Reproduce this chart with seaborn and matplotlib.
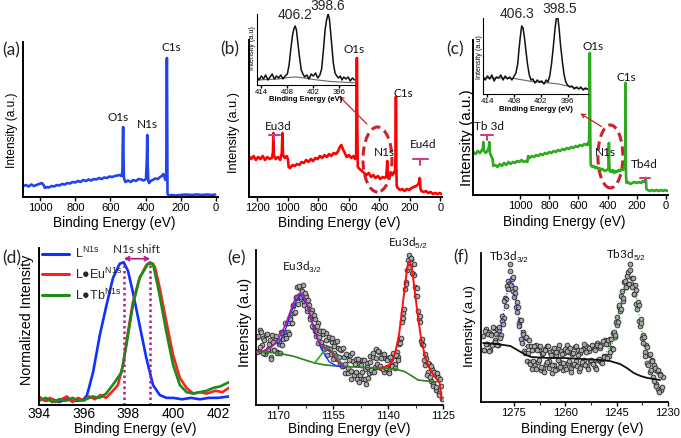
import matplotlib
matplotlib.use("Agg")
import matplotlib.pyplot as plt
import seaborn as sns
import pandas as pd
from matplotlib.patches import Ellipse

# ---------------- data ----------------
# (a) ligand survey
a_x = [1095, 1080, 1065, 1050, 1035, 1020, 1005, 990, 980, 972,
       962, 950, 935, 920, 905, 890, 875, 860, 845, 830,
       815, 800, 785, 770, 755, 740, 725, 710, 695, 680,
       665, 650, 635, 620, 605, 590, 575, 560, 548, 538,
       532, 530, 528, 526, 524, 520, 515, 500, 485, 470,
       455, 440, 425, 412, 398, 393, 391, 389, 385, 380,
       372, 360, 345, 330, 318, 308, 300, 294, 288, 283,
       280, 279, 278, 276, 273, 265, 250, 230, 200, 170,
       140, 110, 80, 50, 25, 5]
a_y = [11, 12, 10.5, 12.5, 11, 12, 13, 14, 12, 9,
       10, 9.5, 11, 10.5, 12, 11.5, 13, 12.5, 14, 13.5,
       15, 14.5, 16, 15, 17, 16, 17.5, 16.5, 18, 17.5,
       19, 18, 19.5, 19, 20.5, 20, 21, 21.5, 22, 21,
       25, 55, 70, 45, 20, 17, 15, 16.5, 15, 17,
       16, 18, 17.5, 16.5, 18, 40, 62, 35, 16, 14,
       16, 17, 18.5, 18, 20, 21, 23, 21, 17, 19,
       139, 139, 100, 4, 2, 1.5, 2, 1.5, 2, 2.5,
       2, 2.5, 2, 2.5, 2, 2.5]

# (b) Eu complex survey
b_x = [1250, 1240, 1225, 1210, 1195, 1180, 1165, 1150, 1135, 1120,
       1105, 1098, 1095, 1092, 1080, 1065, 1050, 1040, 1036, 1032,
       1020, 1008, 1000, 995, 985, 970, 955, 940, 925, 910,
       895, 880, 865, 850, 835, 820, 805, 790, 775, 760,
       745, 730, 715, 700, 685, 670, 660, 650, 640, 630,
       615, 600, 585, 570, 560, 553, 551, 549, 547, 545,
       542, 530, 515, 500, 485, 470, 455, 440, 425, 410,
       395, 380, 365, 355, 351, 349, 347, 343, 335, 325,
       315, 305, 298, 295, 293, 291, 289, 287, 280, 265,
       250, 235, 220, 205, 190, 175, 160, 150, 142, 137,
       134, 131, 125, 110, 95, 80, 65, 50, 35, 20,
       5, -8]
b_y = [40, 38, 41, 37, 40, 38, 41, 37, 40, 38,
       39, 45, 64, 42, 38, 40, 37, 44, 64, 42,
       39, 41, 38, 30, 29, 32, 31, 33, 32, 35,
       34, 37, 35, 38, 36, 39, 38, 41, 39, 42,
       40, 43, 41, 44, 43, 46, 50, 52, 48, 45,
       40, 42, 39, 41, 38, 40, 80, 139, 139, 70,
       30, 28, 26, 24, 22, 24, 20, 22, 19, 21,
       18, 20, 19, 21, 30, 36, 27, 19, 21, 23,
       22, 25, 24, 40, 100, 100, 30, 11, 9, 7,
       8, 6, 8, 7, 9, 10, 11, 12, 14, 19,
       17, 8, 6, 5, 6, 4, 5, 3, 4, 3,
       4, 3]

# (c) Tb complex survey
c_x = [1320, 1305, 1290, 1275, 1262, 1256, 1252, 1248, 1235, 1222,
       1215, 1211, 1207, 1196, 1188, 1184, 1170, 1155, 1140, 1125,
       1110, 1095, 1080, 1065, 1050, 1035, 1020, 1005, 990, 975,
       960, 950, 945, 935, 920, 905, 890, 875, 860, 845,
       830, 815, 800, 785, 770, 755, 740, 725, 710, 695,
       680, 665, 650, 635, 620, 605, 590, 575, 560, 545,
       535, 528, 525, 523, 521, 519, 516, 505, 495, 485,
       475, 465, 455, 445, 435, 420, 405, 395, 393, 391,
       389, 385, 375, 365, 355, 345, 335, 325, 315, 305,
       295, 285, 280, 278, 276, 274, 270, 260, 245, 230,
       215, 200, 185, 170, 160, 150, 142, 139, 137, 134,
       125, 110, 95, 80, 65, 50, 35, 20, 5, -10]
c_y = [43, 41, 44, 42, 45, 46, 53, 44, 42, 45,
       47, 53, 42, 38, 36, 29, 30, 28, 31, 29,
       32, 30, 33, 31, 33, 32, 34, 33, 35, 33,
       34, 33, 39, 37, 39, 38, 40, 39, 41, 40,
       42, 41, 43, 42, 44, 43, 45, 44, 46, 45,
       47, 46, 48, 47, 49, 48, 50, 49, 51, 50,
       52, 50, 70, 142, 142, 60, 30, 28, 29, 27,
       28, 26, 27, 25, 26, 24, 25, 26, 40, 52,
       32, 24, 23, 25, 22, 24, 23, 25, 24, 26,
       25, 27, 26, 112, 112, 20, 12, 13, 11, 12,
       13, 12, 13, 12, 14, 13, 14, 17, 15, 6,
       5, 4, 5, 4, 5, 4, 5, 4, 5, 4]

# insets: N1s high resolution
ib_x = [415, 414.5, 414, 413.5, 413, 412.5, 412, 411.5, 411, 410.5, 410, 409.5, 409, 408.5, 408,
        407.6, 407.2, 406.8, 406.5, 406.2, 405.9, 405.6, 405.2, 404.8, 404.4, 404,
        403.5, 403, 402.5, 402, 401.5, 401, 400.5,
        400.1, 399.7, 399.3, 399, 398.6, 398.3, 398, 397.7, 397.4, 397,
        396.6, 396.2, 395.8, 395.4, 395, 394.5, 394, 393.5, 393, 392.5]
ib_y = [8, 5, 9, 6, 10, 5, 8, 11, 6, 9, 7, 10, 6, 9, 11,
        20, 36, 50, 56, 59, 55, 43, 28, 15, 11, 8,
        10, 6, 11, 9, 12, 7, 10,
        16, 34, 55, 64, 71, 66, 52, 37, 22, 12,
        9, 7, 9, 5, 8, 6, 8, 4, 7, 5]
ib_bg_x = [415, 410, 408, 406, 404, 402, 400, 398, 396, 394, 392.5]
ib_bg_y = [5, 6, 7.5, 8, 7, 5.5, 4.5, 3.5, 3, 2.5, 2.3]
ic_x = [415, 414.5, 414, 413.5, 413, 412.5, 412, 411.5, 411, 410.5, 410, 409.5, 409, 408.5, 408,
        407.6, 407.2, 406.9, 406.6, 406.3, 406, 405.7, 405.4, 405, 404.6, 404.2, 403.8, 403.3,
        402.8, 402.3, 401.8, 401.3, 400.8, 400.4, 400,
        399.6, 399.2, 398.8, 398.5, 398.2, 397.9, 397.6, 397.2, 396.8, 396.4, 396,
        395.5, 395, 394.5, 394, 393.5, 393, 392.5, 392, 391.5]
ic_y = [17, 14, 18, 15, 19, 13, 17, 16, 19, 14, 18, 15, 17, 14, 18,
        21, 30, 45, 58, 68, 66, 57, 45, 30, 19, 14, 15, 11, 14, 12, 13, 10, 14, 12, 18,
        30, 47, 66, 76, 77, 66, 50, 34, 20, 12, 9,
        7, 8, 5, 7, 5, 7, 4, 6, 5]
ic_bg_x = [415, 410, 408, 406, 404, 402, 400, 398, 396, 394, 391.5]
ic_bg_y = [16, 16, 15.5, 14, 12.5, 11.5, 11, 10, 8, 6, 4.5]

# (d) normalised N1s
d_blue_x = [394.0, 394.3, 394.6, 394.9, 395.2, 395.5, 395.8, 396.0, 396.15, 396.42,
            396.72, 397.02, 397.31, 397.61, 397.79, 397.98, 398.2, 398.5, 398.8, 399.1,
            399.4, 399.7, 400.0, 400.4, 400.8, 401.2, 401.6, 402.0, 402.5]
d_blue_y = [0.05, 0.03, 0.04, 0.02, 0.04, 0.03, 0.03, 0.04, 0.07, 0.23,
            0.49, 0.70, 0.89, 0.99, 1.0, 0.94, 0.79, 0.56, 0.33, 0.14,
            0.07, 0.05, 0.05, 0.04, 0.05, 0.04, 0.05, 0.05, 0.06]
d_red_x = [394.0, 394.25, 394.5, 394.75, 395.0, 395.25, 395.5, 395.75, 396.0, 396.25,
           396.5, 396.75, 397.0, 397.25, 397.53, 397.76, 397.98, 398.2, 398.5, 398.8,
           398.98, 399.18, 399.4, 399.7, 400.0, 400.3, 400.6, 400.9, 401.2, 401.5,
           401.9, 402.2, 402.5]
d_red_y = [0.06, 0.03, 0.05, 0.02, 0.04, 0.06, 0.02, 0.05, 0.03, 0.06,
           0.04, 0.07, 0.05, 0.09, 0.14, 0.28, 0.51, 0.72, 0.89, 0.98,
           1.0, 0.97, 0.82, 0.58, 0.35, 0.19, 0.12, 0.08, 0.09, 0.08,
           0.1, 0.09, 0.12]
d_green_x = [394.0, 394.3, 394.6, 394.9, 395.2, 395.5, 395.8, 396.1, 396.4, 396.7,
             397.0, 397.2, 397.39, 397.69, 397.91, 398.2, 398.5, 398.88, 399.1, 399.37,
             399.7, 400.0, 400.3, 400.6, 400.9, 401.2, 401.5, 401.8, 402.1, 402.5]
d_green_y = [0.03, 0.05, 0.02, 0.04, 0.03, 0.05, 0.03, 0.04, 0.06, 0.05,
             0.08, 0.12, 0.16, 0.23, 0.42, 0.70, 0.89, 0.99, 0.99, 0.79,
             0.51, 0.28, 0.14, 0.09, 0.08, 0.09, 0.1, 0.12, 0.13, 0.16]
d_labels = ["L$^{\\rm N1s}$", "L\u25cfEu$^{\\rm N1s}$", "L\u25cfTb$^{\\rm N1s}$"]
d_peaks = [397.79, 398.98]

# (e) Eu3d  (two interleaved sweeps of data points)
e_pts_x = [1175.6, 1175.2, 1174.8, 1174.4, 1174.0, 1173.6, 1173.2, 1172.8, 1172.4, 1172.0,
           1171.6, 1171.2, 1170.8, 1170.4, 1170.0, 1169.6, 1169.2, 1168.8, 1168.4, 1168.0,
           1167.6, 1167.2, 1166.8, 1166.4, 1166.0, 1165.6, 1165.2, 1164.8, 1164.4, 1164.0,
           1163.6, 1163.2, 1162.8, 1162.4, 1162.0, 1161.6, 1161.2, 1160.8, 1160.4, 1160.0,
           1159.6, 1159.2, 1158.8, 1158.4, 1158.0, 1157.6, 1157.2, 1156.8, 1156.4, 1156.0,
           1155.6, 1155.2, 1154.8, 1154.4, 1154.0, 1153.6, 1153.2, 1152.8, 1152.4, 1152.0,
           1151.6, 1151.2, 1150.8, 1150.4, 1150.0, 1149.6, 1149.2, 1148.8, 1148.4, 1148.0,
           1147.6, 1147.2, 1146.8, 1146.4, 1146.0, 1145.6, 1145.2, 1144.8, 1144.4, 1144.0,
           1143.6, 1143.2, 1142.8, 1142.4, 1142.0, 1141.6, 1141.2, 1140.8, 1140.4, 1140.0,
           1139.6, 1139.2, 1138.8, 1138.4, 1138.0, 1137.6, 1137.2, 1136.8, 1136.4, 1136.0,
           1135.6, 1135.2, 1134.8, 1134.4, 1134.0, 1133.6, 1133.2, 1132.8, 1132.4, 1132.0,
           1131.6, 1131.2, 1130.8, 1130.4, 1130.0, 1129.6, 1129.2, 1128.8, 1128.4, 1128.0,
           1127.6, 1127.2, 1126.8, 1126.4, 1126.0, 1125.6]
e_pts_y = [68, 54, 75, 60, 67, 51, 70, 55, 61, 48,
           70, 55, 65, 53, 64, 61, 73, 60, 73, 67,
           82, 73, 88, 82, 99, 92, 107, 118, 108, 117,
           106, 120, 103, 109, 94, 100, 88, 95, 78, 86,
           69, 82, 68, 74, 59, 71, 58, 72, 57, 66,
           51, 63, 52, 63, 46, 57, 41, 55, 39, 48,
           32, 50, 37, 50, 26, 44, 31, 46, 26, 41,
           30, 45, 26, 36, 21, 42, 32, 49, 33, 48,
           38, 56, 38, 53, 37, 50, 33, 47, 38, 47,
           35, 46, 40, 49, 41, 53, 48, 66, 67, 92,
           96, 123, 135, 150, 139, 146, 131, 130, 109, 109,
           86, 83, 61, 60, 40, 47, 33, 41, 24, 36,
           21, 31, 15, 28, 12, 19]
e_pts2_x = [1175.8, 1175.4, 1175.0, 1174.6, 1174.2, 1173.8, 1173.4, 1173.0, 1172.6, 1172.2,
            1171.8, 1171.4, 1171.0, 1170.6, 1170.2, 1169.8, 1169.4, 1169.0, 1168.6, 1168.2,
            1167.8, 1167.4, 1167.0, 1166.6, 1166.2, 1165.8, 1165.4, 1165.0, 1164.6, 1164.2,
            1163.8, 1163.4, 1163.0, 1162.6, 1162.2, 1161.8, 1161.4, 1161.0, 1160.6, 1160.2,
            1159.8, 1159.4, 1159.0, 1158.6, 1158.2, 1157.8, 1157.4, 1157.0, 1156.6, 1156.2,
            1155.8, 1155.4, 1155.0, 1154.6, 1154.2, 1153.8, 1153.4, 1153.0, 1152.6, 1152.2,
            1151.8, 1151.4, 1151.0, 1150.6, 1150.2, 1149.8, 1149.4, 1149.0, 1148.6, 1148.2,
            1147.8, 1147.4, 1147.0, 1146.6, 1146.2, 1145.8, 1145.4, 1145.0, 1144.6, 1144.2,
            1143.8, 1143.4, 1143.0, 1142.6, 1142.2, 1141.8, 1141.4, 1141.0, 1140.6, 1140.2,
            1139.8, 1139.4, 1139.0, 1138.6, 1138.2, 1137.8, 1137.4, 1137.0, 1136.6, 1136.2,
            1135.8, 1135.4, 1135.0, 1134.6, 1134.2, 1133.8, 1133.4, 1133.0, 1132.6, 1132.2,
            1131.8, 1131.4, 1131.0, 1130.6, 1130.2, 1129.8, 1129.4, 1129.0, 1128.6, 1128.2,
            1127.8, 1127.4, 1127.0, 1126.6, 1126.2, 1125.8, 1125.4]
e_pts2_y = [53, 69, 58, 73, 52, 65, 54, 71, 56, 65,
            46, 63, 55, 69, 52, 64, 52, 72, 66, 82,
            67, 82, 71, 86, 82, 100, 93, 108, 101, 119,
            108, 114, 100, 112, 97, 105, 86, 92, 79, 90,
            74, 79, 62, 74, 63, 74, 56, 65, 50, 68,
            56, 67, 46, 59, 49, 64, 48, 56, 39, 57,
            41, 51, 32, 45, 34, 52, 30, 41, 33, 46,
            23, 40, 33, 45, 26, 38, 27, 43, 35, 52,
            33, 47, 41, 54, 39, 47, 36, 51, 37, 45,
            32, 48, 39, 52, 37, 50, 45, 61, 62, 83,
            87, 116, 121, 145, 138, 147, 132, 141, 118, 117,
            94, 89, 64, 66, 45, 51, 30, 42, 28, 39,
            19, 33, 18, 32, 10, 26, 6]
e_bg_x = [1175.4, 1172, 1169.9, 1166, 1162.6, 1160, 1157.2, 1154, 1150.9, 1146,
          1140.9, 1138.1, 1135.4, 1133.5, 1131.8, 1129.5, 1127.2, 1125.9]
e_bg_y = [53.3, 52.5, 51.7, 49, 45, 42, 40, 39, 38.3, 37.5,
          36.7, 36, 33.3, 29, 25, 24, 23.3, 23.3]
e_fit52_x = [1142, 1140, 1139, 1138, 1137, 1136, 1135, 1134.5, 1134, 1133.5,
             1133, 1132, 1131, 1130, 1129, 1128, 1127, 1126, 1125.6, 1125.4]
e_fit52_y = [37, 39, 43, 53, 70, 100, 130, 143, 143, 137,
             123, 93, 67, 50, 39, 32, 27, 23, 13, 5]
e_fit32_x = [1176, 1174, 1172, 1170, 1168, 1166, 1165, 1164, 1163, 1162,
             1161, 1160, 1159, 1158, 1157, 1156, 1155, 1154, 1153, 1152]
e_fit32_y = [53, 54, 57, 65, 80, 100, 109, 112, 109, 100,
             87, 75, 65, 59, 56, 55, 51, 45, 41, 39]
e_comp1_x = [1170, 1168, 1166, 1164, 1162, 1160, 1158, 1156, 1154, 1152]
e_comp1_y = [60, 75, 97, 111, 99, 73, 55, 43, 39, 38]
e_comp2_x = [1160, 1158.5, 1157.5, 1156.7, 1156, 1155, 1154, 1153, 1152]
e_comp2_y = [42, 49, 54, 57, 56, 53, 48, 43, 39]

# (f) Tb3d  (two interleaved sweeps of data points)
f_pts_x = [1284.0, 1283.6, 1283.2, 1282.8, 1282.4, 1282.0, 1281.6, 1281.2, 1280.8, 1280.4,
           1280.0, 1279.6, 1279.2, 1278.8, 1278.4, 1278.0, 1277.6, 1277.2, 1276.8, 1276.4,
           1276.0, 1275.6, 1275.2, 1274.8, 1274.4, 1274.0, 1273.6, 1273.2, 1272.8, 1272.4,
           1272.0, 1271.6, 1271.2, 1270.8, 1270.4, 1270.0, 1269.6, 1269.2, 1268.8, 1268.4,
           1268.0, 1267.6, 1267.2, 1266.8, 1266.4, 1266.0, 1265.6, 1265.2, 1264.8, 1264.4,
           1264.0, 1263.6, 1263.2, 1262.8, 1262.4, 1262.0, 1261.6, 1261.2, 1260.8, 1260.4,
           1260.0, 1259.6, 1259.2, 1258.8, 1258.4, 1258.0, 1257.6, 1257.2, 1256.8, 1256.4,
           1256.0, 1255.6, 1255.2, 1254.8, 1254.4, 1254.0, 1253.6, 1253.2, 1252.8, 1252.4,
           1252.0, 1251.6, 1251.2, 1250.8, 1250.4, 1250.0, 1249.6, 1249.2, 1248.8, 1248.4,
           1248.0, 1247.6, 1247.2, 1246.8, 1246.4, 1246.0, 1245.6, 1245.2, 1244.8, 1244.4,
           1244.0, 1243.6, 1243.2, 1242.8, 1242.4, 1242.0, 1241.6, 1241.2, 1240.8, 1240.4,
           1240.0, 1239.6, 1239.2, 1238.8, 1238.4, 1238.0, 1237.6, 1237.2, 1236.8, 1236.4,
           1236.0, 1235.6, 1235.2, 1234.8, 1234.4, 1234.0, 1233.6, 1233.2, 1232.8, 1232.4,
           1232.0, 1231.6]
f_pts_y = [66, 52, 73, 58, 70, 52, 68, 58, 74, 62,
           73, 57, 72, 67, 86, 84, 104, 103, 121, 118,
           138, 123, 111, 114, 95, 100, 79, 82, 63, 70,
           51, 64, 41, 56, 40, 56, 33, 53, 38, 57,
           40, 52, 32, 48, 34, 53, 38, 56, 41, 50,
           29, 52, 37, 47, 33, 54, 40, 51, 32, 49,
           36, 57, 39, 50, 34, 48, 37, 55, 41, 52,
           31, 49, 38, 53, 42, 56, 36, 51, 41, 55,
           39, 54, 35, 59, 42, 54, 40, 58, 46, 62,
           46, 58, 46, 63, 54, 69, 65, 80, 77, 95,
           91, 106, 101, 120, 115, 126, 118, 138, 118, 124,
           108, 117, 98, 100, 81, 83, 64, 67, 50, 57,
           39, 47, 30, 42, 25, 37, 18, 31, 13, 28,
           12, 25]
f_pts2_x = [1283.8, 1283.4, 1283.0, 1282.6, 1282.2, 1281.8, 1281.4, 1281.0, 1280.6, 1280.2,
            1279.8, 1279.4, 1279.0, 1278.6, 1278.2, 1277.8, 1277.4, 1277.0, 1276.6, 1276.2,
            1275.8, 1275.4, 1275.0, 1274.6, 1274.2, 1273.8, 1273.4, 1273.0, 1272.6, 1272.2,
            1271.8, 1271.4, 1271.0, 1270.6, 1270.2, 1269.8, 1269.4, 1269.0, 1268.6, 1268.2,
            1267.8, 1267.4, 1267.0, 1266.6, 1266.2, 1265.8, 1265.4, 1265.0, 1264.6, 1264.2,
            1263.8, 1263.4, 1263.0, 1262.6, 1262.2, 1261.8, 1261.4, 1261.0, 1260.6, 1260.2,
            1259.8, 1259.4, 1259.0, 1258.6, 1258.2, 1257.8, 1257.4, 1257.0, 1256.6, 1256.2,
            1255.8, 1255.4, 1255.0, 1254.6, 1254.2, 1253.8, 1253.4, 1253.0, 1252.6, 1252.2,
            1251.8, 1251.4, 1251.0, 1250.6, 1250.2, 1249.8, 1249.4, 1249.0, 1248.6, 1248.2,
            1247.8, 1247.4, 1247.0, 1246.6, 1246.2, 1245.8, 1245.4, 1245.0, 1244.6, 1244.2,
            1243.8, 1243.4, 1243.0, 1242.6, 1242.2, 1241.8, 1241.4, 1241.0, 1240.6, 1240.2,
            1239.8, 1239.4, 1239.0, 1238.6, 1238.2, 1237.8, 1237.4, 1237.0, 1236.6, 1236.2,
            1235.8, 1235.4, 1235.0, 1234.6, 1234.2, 1233.8, 1233.4, 1233.0, 1232.6, 1232.2,
            1231.8]
f_pts2_y = [52, 71, 58, 68, 51, 67, 57, 75, 60, 68,
            57, 75, 64, 81, 78, 101, 96, 116, 113, 131,
            117, 125, 105, 109, 90, 95, 76, 82, 59, 68,
            49, 65, 49, 62, 38, 52, 41, 56, 33, 52,
            42, 56, 35, 49, 30, 52, 40, 56, 34, 47,
            37, 54, 32, 50, 42, 57, 35, 48, 39, 53,
            33, 51, 41, 54, 30, 49, 38, 56, 36, 47,
            34, 52, 40, 58, 37, 50, 33, 54, 42, 57,
            38, 52, 33, 57, 43, 56, 39, 61, 45, 58,
            44, 62, 50, 63, 53, 70, 67, 85, 80, 97,
            93, 111, 104, 121, 115, 130, 118, 132, 115, 124,
            108, 112, 93, 97, 76, 79, 59, 65, 46, 55,
            37, 48, 32, 41, 21, 34, 16, 32, 10, 27,
            15]
f_bg_x = [1284, 1280, 1276, 1274, 1272, 1270, 1265, 1260, 1255, 1250,
          1247, 1244, 1242, 1240, 1238, 1236, 1234, 1232.3]
f_bg_y = [59, 58, 56, 52, 48, 45, 44, 44, 43, 42,
          41, 38, 34, 29, 26, 24, 23, 22]
f_fit32_x = [1280, 1279, 1278, 1277, 1276, 1275.2, 1274.2, 1273.2, 1272, 1271]
f_fit32_y = [66, 70, 88, 110, 124, 115, 97, 77, 58, 52]
f_fit52_x = [1248, 1246, 1245, 1244, 1242.5, 1241, 1239.6, 1238.1, 1237, 1235, 1233.5]
f_fit52_y = [50, 60, 75, 94, 117, 124, 110, 80, 57, 37, 26]

survey_ticks = [1200, 1000, 800, 600, 400, 200, 0]
inset_ticks = [414, 408, 402, 396]
d_ticks = [394, 396, 398, 400, 402]
e_ticks = [1170, 1155, 1140, 1125]
f_ticks = [1275, 1260, 1245, 1230]

# ---------------- style ----------------
sns.set_theme(style="white")
plt.rcParams["font.family"] = ["Liberation Sans", "DejaVu Sans"]
plt.rcParams["mathtext.fontset"] = "custom"
plt.rcParams["mathtext.rm"] = "Liberation Sans"
plt.rcParams["mathtext.it"] = "Liberation Sans:italic"
plt.rcParams["mathtext.bf"] = "Liberation Sans:bold"

NARROW = ["Liberation Sans Narrow", "Liberation Sans", "DejaVu Sans"]
CAL = ["Lato", "DejaVu Sans"]

W, H = 681, 438
fig = plt.figure(figsize=(W / 100, H / 100), dpi=100)


def box(l, t, r, b):
    return fig.add_axes([l / W, 1 - b / H, (r - l) / W, (b - t) / H])


def style(ax, lw=1.4, tsize=8, tfam=None, ticklen=3):
    for s in ("top", "right"):
        ax.spines[s].set_visible(False)
    for s in ("left", "bottom"):
        ax.spines[s].set_color("black")
        ax.spines[s].set_linewidth(lw)
    ax.set_yticks([])
    ax.tick_params(axis="x", which="major", direction="out", bottom=True, length=ticklen,
                   width=1, color="black", pad=1.5, labelsize=tsize, labelcolor="black")
    if tfam:
        for t in ax.get_xticklabels():
            t.set_family(tfam)
    ax.set_facecolor("none")
    ax.grid(False)


def labels(ax, xl, yl, xpos, ypos, xs=9.8, ys=9.8):
    ax.set_xlabel(xl, fontsize=xs, color="black")
    ax.set_ylabel(yl, fontsize=ys, color="black")
    ax.xaxis.set_label_coords(*xpos)
    ax.xaxis.label.set_va("center")
    ax.yaxis.set_label_coords(*ypos)
    ax.yaxis.label.set_va("center")


def line(ax, x, y, color, lw, **kw):
    df = pd.DataFrame({"eV": x, "I": y})
    sns.lineplot(data=df, x="eV", y="I", ax=ax, color=color, lw=lw, sort=False,
                 estimator=None, **kw)


def points(ax, x, y):
    sns.scatterplot(x=x, y=y, ax=ax, s=12, color="#a8a8a8", edgecolor="#1a1a1a",
                    linewidth=0.55, zorder=2)


def bracket(ax, x0, x1, y, dy, color="#c8408a"):
    ax.plot([x0, x1], [y, y], color=color, lw=1.5, clip_on=False)
    xm = (x0 + x1) / 2
    ax.plot([xm, xm], [y, y - dy], color=color, lw=1.5, clip_on=False)


def ptext(ax, x, y, s, size=8.5):
    ax.text(x, y, s, ha="center", va="center", fontsize=size, family=CAL,
            color="#111111", clip_on=False)


# ---------------- (a) ----------------
ax = box(23, 42, 218, 197)
line(ax, a_x, a_y, "#2244ee", 1.9)
ax.set_xlim(1097, -11)
ax.set_ylim(0, 155)
ax.set_xticks(survey_ticks[1:])
style(ax, tfam=NARROW)
labels(ax, "Binding Energy (eV)", "Intensity (a.u.)", (0.47, -0.168), (-0.054, 0.43), ys=8.6)
ptext(ax, 557, 79.5, "O1s")
ptext(ax, 392, 73, "N1s")
ptext(ax, 256, 149.5, "C1s")

# ---------------- (b) ----------------
ax = box(249, 40, 442, 197)
line(ax, b_x, b_y, "#ff0000", 1.9)
ax.set_xlim(1255, -10)
ax.set_ylim(0, 157)
ax.set_xticks(survey_ticks)
style(ax, tfam=NARROW)
labels(ax, "Binding Energy (eV)", "Intensity (a.u.)", (0.466, -0.166), (-0.078, 0.41), ys=9.2)
ptext(ax, 567, 147.5, "O1s")
ptext(ax, 246, 103.5, "C1s")
ptext(ax, 366, 44, "N1s")
ptext(ax, 1062, 71, "Eu3d")
ptext(ax, 115, 53, "Eu4d")
bracket(ax, 1124, 1052, 62, 5)
bracket(ax, 180, 82, 38, 6)
ax.add_patch(Ellipse((413, 37.5), 190, 65, fill=False, ec="#d0202a", lw=2.2,
                     ls=(0, (3, 1.6)), clip_on=False))
ax.annotate("", xy=(678, 103), xytext=(469, 71),
            arrowprops=dict(arrowstyle="->", color="#d0202a", lw=0.9,
                            mutation_scale=7), annotation_clip=False)

# inset (b)
ax = box(257, 14, 355, 85)
line(ax, ib_bg_x, ib_bg_y, "#666666", 0.8)
line(ax, ib_x, ib_y, "#111111", 1.1)
ax.set_xlim(415, 392.4)
ax.set_ylim(0, 71)
ax.set_xticks(inset_ticks)
style(ax, lw=0.8, tsize=5.6, ticklen=2)
ax.tick_params(axis="x", pad=0.8)
labels(ax, "Binding Energy (eV)", "Intensity (a.u)", (0.5, -0.2), (-0.05, 0.52),
       xs=5.5, ys=5.2)
ax.xaxis.label.set_weight("bold")
ax.text(406.2, 70, "406.2", ha="center", va="center", fontsize=10, clip_on=False)
ax.text(398.8, 79, "398.6", ha="center", va="center", fontsize=10, clip_on=False)

# ---------------- (c) ----------------
ax = box(473, 40, 668, 195)
line(ax, c_x, c_y, "#2eaa1e", 1.9)
ax.set_xlim(1323, -14)
ax.set_ylim(0, 155)
ax.set_xticks(survey_ticks[1:])
style(ax, tfam=NARROW)
labels(ax, "Binding Energy (eV)", "Intensity (a.u.)", (0.467, -0.174), (-0.031, 0.37), ys=11)
ptext(ax, 501, 148, "O1s")
ptext(ax, 275, 117.5, "C1s")
ptext(ax, 412, 42, "N1s")
ptext(ax, 1213, 68, "Tb 3d")
ptext(ax, 148, 31, "Tb4d")
bracket(ax, 1270, 1188, 60, 5)
bracket(ax, 179, 111, 17, 4)
ax.add_patch(Ellipse((381, 38.5), 171, 63, fill=False, ec="#d0202a", lw=2.2,
                     ls=(0, (3, 1.6)), clip_on=False))
ax.annotate("", xy=(604, 83), xytext=(426, 67),
            arrowprops=dict(arrowstyle="->", color="#d0202a", lw=0.9,
                            mutation_scale=7), annotation_clip=False)

# inset (c)
ax = box(483, 18, 588, 94)
line(ax, ic_bg_x, ic_bg_y, "#666666", 0.8)
line(ax, ic_x, ic_y, "#111111", 1.1)
ax.set_xlim(415, 391.4)
ax.set_ylim(0, 76)
ax.set_xticks(inset_ticks)
style(ax, lw=0.8, tsize=5.8, ticklen=2)
ax.tick_params(axis="x", pad=0.8)
labels(ax, "Binding Energy (eV)", "Intensity (a.u)", (0.5, -0.21), (-0.034, 0.49),
       xs=5.6, ys=5.2)
ax.xaxis.label.set_weight("bold")
ax.text(407.4, 80, "406.3", ha="center", va="center", fontsize=10, clip_on=False)
ax.text(397.7, 85, "398.5", ha="center", va="center", fontsize=10, clip_on=False)

# ---------------- (d) ----------------
ax = box(39, 248, 229, 405)
line(ax, d_blue_x, d_blue_y, "#1030ff", 1.9, label=d_labels[0])
line(ax, d_red_x, d_red_y, "#ff2020", 1.9, label=d_labels[1])
line(ax, d_green_x, d_green_y, "#1a8c1a", 1.9, label=d_labels[2])
for p in d_peaks:
    ax.plot([p, p], [0, 1.0], color="#b0208f", lw=1.8, ls=(0, (1, 1.2)))
ax.annotate("", xy=(d_peaks[0], 1.025), xytext=(d_peaks[1], 1.025),
            arrowprops=dict(arrowstyle="<->", color="#b0208f", lw=1.3, mutation_scale=7,
                            shrinkA=0, shrinkB=0), annotation_clip=False)
ax.text(398.37, 1.09, "N1s shift", ha="center", va="center", fontsize=8.5, family=CAL,
        clip_on=False)
ax.set_xlim(394, 402.5)
ax.set_ylim(0, 1.1)
ax.set_xticks(d_ticks)
style(ax, tsize=10, ticklen=0)
labels(ax, "Binding Energy (eV)", "Normalized Intensity", (0.505, -0.153), (-0.063, 0.54),
       ys=10.3)
leg = ax.legend(loc="upper left", bbox_to_anchor=(0.0, 1.03), frameon=False, fontsize=9,
                handlelength=2.2, handletextpad=0.5, labelspacing=0.45, borderaxespad=0,
                borderpad=0.2)
for h in leg.get_lines():
    h.set_linewidth(2.2)

# ---------------- (e) ----------------
ax = box(256, 250, 443, 405)
points(ax, e_pts_x, e_pts_y)
points(ax, e_pts2_x, e_pts2_y)
line(ax, e_bg_x, e_bg_y, "#2f7f1a", 1.2, zorder=3)
line(ax, e_comp1_x, e_comp1_y, "#2030ff", 1.0, zorder=3)
line(ax, e_comp2_x, e_comp2_y, "#22aa22", 1.2, zorder=3)
line(ax, e_fit32_x, e_fit32_y, "#b02090", 1.2, zorder=4)
line(ax, e_fit52_x, e_fit52_y, "#ff1010", 1.4, zorder=4)
ax.set_xlim(1176, 1125)
ax.set_ylim(0, 155)
ax.set_xticks(e_ticks)
ax.set_xticks([1162.5, 1147.5, 1132.5], minor=True)
style(ax, lw=1.3)
ax.tick_params(axis="x", which="minor", direction="out", bottom=True, length=2, width=0.8)
labels(ax, "Binding Energy (eV)", "Intensity (a.u)", (0.50, -0.155), (-0.059, 0.53), ys=10.5)
ptext(ax, 1163.5, 138, "Eu3d$_{3/2}$", size=8.5)
ptext(ax, 1134.6, 162, "Eu3d$_{5/2}$", size=8.5)

# ---------------- (f) ----------------
ax = box(481, 253, 668, 402)
points(ax, f_pts_x, f_pts_y)
points(ax, f_pts2_x, f_pts2_y)
line(ax, f_bg_x, f_bg_y, "#111111", 1.3, zorder=3)
line(ax, f_fit32_x, f_fit32_y, "#2030ff", 0.8, zorder=3, ls=(0, (1, 2)))
line(ax, f_fit52_x, f_fit52_y, "#22aa22", 0.8, zorder=3, ls=(0, (1, 2)))
ax.set_xlim(1284.6, 1230)
ax.set_ylim(0, 149)
ax.set_xticks(f_ticks)
ax.set_xticks([1267.5, 1252.5, 1237.5], minor=True)
style(ax, lw=1.3)
ax.tick_params(axis="x", which="minor", direction="out", bottom=True, length=2, width=0.8)
labels(ax, "Binding Energy (eV)", "Intensity (a.u)", (0.54, -0.18), (-0.059, 0.51), ys=9.7)
ptext(ax, 1276.4, 145, "Tb3d$_{3/2}$", size=8.5)
ptext(ax, 1242.2, 147, "Tb3d$_{5/2}$", size=8.5)

# panel letters
for s, x, y in [("(a)", 2, 50), ("(b)", 220, 49), ("(c)", 446, 49),
                ("(d)", 2, 258), ("(e)", 227, 258), ("(f)", 453, 257)]:
    fig.text(x / W, 1 - y / H, s, ha="left", va="center", fontsize=12.5, family=CAL)

fig.savefig("out.png", dpi=100, facecolor="white")
